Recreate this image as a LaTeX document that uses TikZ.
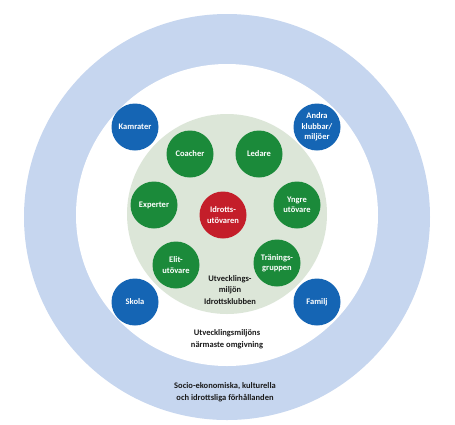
\documentclass[tikz,border=0pt]{standalone}
\usepackage{fontspec}
\setmainfont{Carlito}
\definecolor{outerblue}{HTML}{C6D6EF}
\definecolor{clubgreen}{HTML}{DCE6D8}
\definecolor{dgreen}{HTML}{1B8A3A}
\definecolor{dblue}{HTML}{1565B4}
\definecolor{dred}{HTML}{C41E2A}
\definecolor{txt}{HTML}{1A1A1A}
\begin{document}
\begin{tikzpicture}[x=1pt,y=-1pt,
  ball/.style={circle,minimum size=47pt,inner sep=0pt,align=center,text=white,
    font=\fontsize{8.5pt}{10.5pt}\selectfont\bfseries},
  greenball/.style={ball,fill=dgreen},
  blueball/.style={ball,fill=dblue},
  redball/.style={ball,fill=dred},
  label/.style={align=center,text=txt,font=\fontsize{8.5pt}{11.5pt}\selectfont\bfseries}]
\useasboundingbox[fill=white] (0,0) rectangle (455,424);
\fill[outerblue] (227,217) circle (203);
\fill[white] (227,215) circle (151);
\fill[clubgreen] (227,214) circle (100);
\node[greenball] (coach) at (190,154) {Coacher};
\node[greenball] (ledare) at (259,154) {Ledare};
\node[greenball] (exp) at (154,205) {Experter};
\node[greenball] (yngre) at (297,205) {Yngre\\utövare};
\node[greenball] (elit) at (176,265) {Elit-\\utövare};
\node[greenball] (tran) at (277,263) {Tränings-\\gruppen};
\node[redball] (idr) at (223,215) {Idrotts-\\utövaren};
\node[blueball] (kam) at (135,127) {Kamrater};
\node[blueball] (andra) at (317,127) {Andra\\klubbar/\\miljöer};
\node[blueball] (skola) at (135,302) {Skola};
\node[blueball] (familj) at (317,302) {Familj};
\node[label] (club) at (230,290) {Utvecklings-\\miljön\\Idrottsklubben};
\node[label] (near) at (227,339) {Utvecklingsmiljöns\\närmaste omgivning};
\node[label] (socio) at (225,392) {Socio-ekonomiska, kulturella\\och idrottsliga förhållanden};
\end{tikzpicture}
\end{document}
